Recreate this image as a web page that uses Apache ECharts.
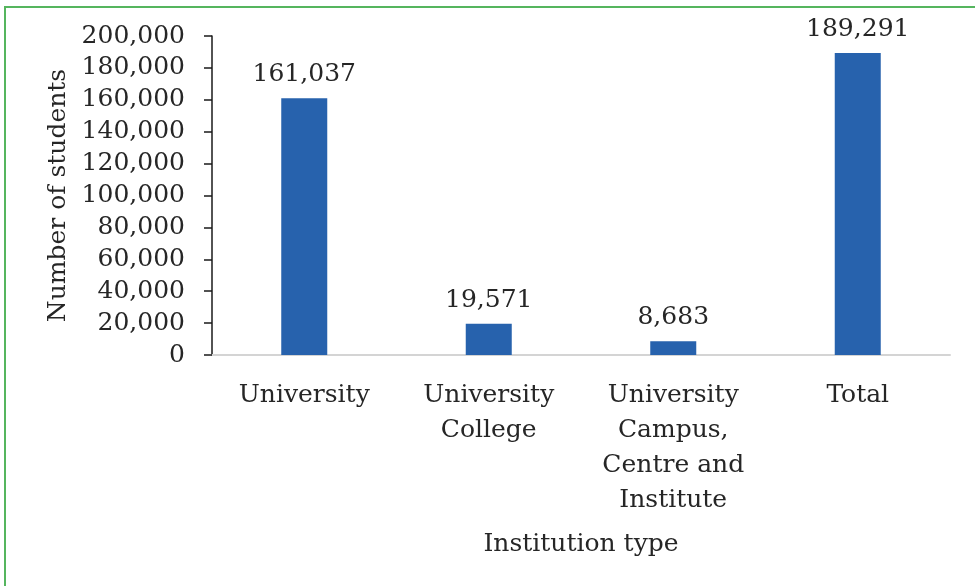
<!DOCTYPE html>
<html>
<head>
<meta charset="utf-8">
<script src="https://cdn.jsdelivr.net/npm/echarts@6/dist/echarts.min.js"></script>
<style>
html,body{margin:0;padding:0;background:#fff;}
#c{width:975px;height:586px;}
</style>
</head>
<body>
<div id="c"></div>
<script>
var categories = ['University', 'University\nCollege', 'University\nCampus,\nCentre and\nInstitute', 'Total'];
var students = [161037, 19571, 8683, 189291];
var yTicks = {min: 0, max: 200000, interval: 20000};

var FONT = "'DejaVu Serif', serif";
var TXT = '#262626';
function fmt(v){ return String(v).replace(/\B(?=(\d{3})+(?!\d))/g, ','); }

var chart = echarts.init(document.getElementById('c'));
chart.setOption({
  backgroundColor: '#fff',
  animation: false,
  textStyle: {fontFamily: FONT},
  grid: {left: 212, right: 25, top: 36, bottom: 231},
  graphic: [
    {type: 'line', shape: {x1: 4, y1: 7, x2: 975, y2: 7}, style: {stroke: '#55b55e', lineWidth: 2}},
    {type: 'line', shape: {x1: 5, y1: 6, x2: 5, y2: 586}, style: {stroke: '#55b55e', lineWidth: 2}}
  ],
  xAxis: {
    type: 'category',
    data: categories,
    name: 'Institution type',
    nameLocation: 'middle',
    nameGap: 177,
    nameTextStyle: {fontFamily: FONT, fontSize: 25, color: TXT},
    axisLine: {lineStyle: {color: '#d4d4d4', width: 2}},
    axisTick: {show: false},
    axisLabel: {fontFamily: FONT, fontSize: 25, color: TXT, lineHeight: 35, margin: 23, interval: 0}
  },
  yAxis: {
    type: 'value',
    min: yTicks.min, max: yTicks.max, interval: yTicks.interval,
    name: 'Number of students',
    nameLocation: 'middle',
    nameGap: 132,
    nameTextStyle: {fontFamily: FONT, fontSize: 25, color: TXT},
    axisLine: {show: true, lineStyle: {color: '#1a1a1a', width: 1.5}},
    axisTick: {show: true, length: 8, lineStyle: {color: '#1a1a1a', width: 1.5}},
    splitLine: {show: false},
    axisLabel: {fontFamily: FONT, fontSize: 25, color: TXT, margin: 27, formatter: function(v){return fmt(v);}}
  },
  series: [{
    type: 'bar',
    data: students,
    barWidth: 46,
    itemStyle: {color: '#2762ad'},
    label: {show: true, position: 'top', distance: 11, fontFamily: FONT, fontSize: 25, color: TXT,
      formatter: function(p){return fmt(p.value);}}
  }]
});
</script>
</body>
</html>
